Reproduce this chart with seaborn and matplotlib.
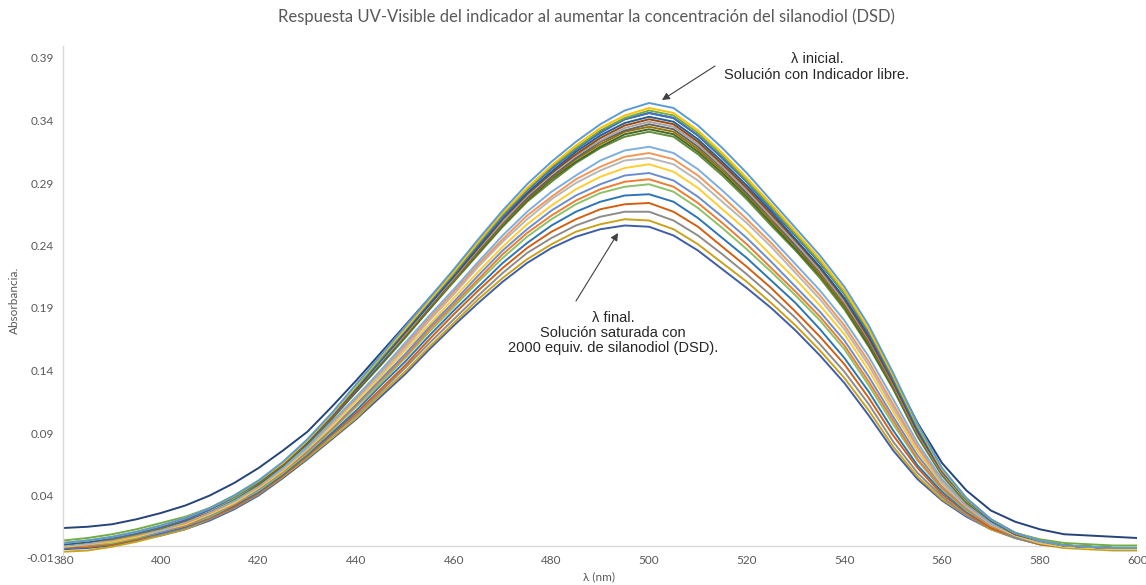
import matplotlib
matplotlib.use("Agg")
import matplotlib.pyplot as plt
import numpy as np
import pandas as pd
import seaborn as sns

# ---------------- data (absorbance in milli-units) ----------------
wavelength = list(range(380, 601, 5))

# upper bundle (initial spectra), highest peak first
t01 = [2,4,7,11,16,22,30,40,52,67,85,106,129,152,175,198,221,245,268,289,307,323,337,348,354,350,336,318,298,276,254,232,207,176,138,97,62,38,21,10,4,0,-1,-2,-2]
t02 = [2,4,7,11,16,22,30,40,52,66,84,105,128,151,173,196,219,243,266,286,304,320,334,344,350,346,332,314,294,273,251,229,204,173,136,96,61,38,21,10,4,0,-1,-2,-2]
t03 = [4,6,9,13,18,23,30,39,51,66,84,105,127,150,173,196,218,242,265,285,303,318,332,342,348,344,330,312,292,271,249,227,202,172,135,95,61,37,21,10,5,2,1,0,0]
t04 = [2,4,6,10,15,21,29,39,51,66,84,104,127,149,172,195,217,241,263,284,301,317,330,341,346,342,328,310,291,269,248,226,201,170,133,94,60,37,21,10,4,0,-1,-2,-2]
t05 = [14,15,17,21,26,32,40,50,62,76,91,111,132,154,176,198,220,243,265,285,302,317,331,341,346,342,328,310,291,269,248,226,202,172,136,98,66,44,28,19,13,9,8,7,6]
t06 = [1,3,6,10,15,21,29,39,51,66,83,104,126,148,171,193,216,239,262,282,299,315,328,338,343,339,325,307,288,267,245,223,198,168,132,92,60,37,20,10,4,0,-1,-2,-2]
t07 = [1,3,6,10,15,21,29,39,50,65,83,103,125,148,170,193,215,238,261,281,298,313,326,336,341,337,323,305,286,265,244,222,197,166,130,91,59,37,20,10,4,0,-1,-2,-2]
t08 = [1,3,6,10,15,21,28,38,50,65,83,103,125,147,169,192,214,237,259,280,297,312,324,334,339,335,321,303,284,263,242,220,195,165,129,90,58,36,20,10,4,0,-1,-2,-2]
t09 = [1,3,6,10,15,20,28,38,50,65,82,102,124,146,169,191,213,236,258,278,295,310,323,332,337,333,319,302,282,262,240,219,194,163,128,89,58,36,20,9,4,0,-1,-2,-2]
t10 = [1,3,6,10,14,20,28,38,50,65,82,102,124,146,168,190,212,235,257,277,294,309,321,331,335,331,317,300,281,260,239,217,192,162,127,88,57,35,20,9,4,0,-1,-2,-2]
t11 = [1,3,6,10,14,20,28,38,49,64,82,102,123,145,167,189,212,234,256,276,293,307,319,329,333,329,315,298,279,258,237,216,191,160,126,88,57,35,20,9,4,0,-1,-2,-2]
t12 = [1,3,5,9,14,20,28,37,49,64,81,101,123,144,166,189,211,233,255,275,291,306,318,327,331,327,313,296,277,256,236,214,189,159,125,87,56,34,20,9,4,0,-1,-2,-2]

# lower bundle (increasing silanediol), highest peak first
l01 = [0,2,5,9,13,19,27,36,48,62,79,99,119,140,162,184,205,227,248,267,283,296,308,316,319,314,301,284,266,246,225,204,180,151,117,82,53,33,18,9,3,0,-1,-2,-2]
l02 = [0,2,4,8,13,18,26,36,47,62,79,98,118,139,160,182,203,225,245,264,279,293,303,311,314,309,296,279,261,242,221,200,176,147,113,79,52,32,18,9,3,0,-1,-2,-2]
l03 = [0,1,4,8,12,18,26,35,47,61,78,97,117,137,158,180,201,223,243,261,277,290,300,308,310,305,292,275,258,239,218,197,173,144,110,78,50,31,17,9,3,0,-1,-2,-2]
l04 = [-1,1,3,7,12,17,25,34,46,60,77,95,115,135,156,177,198,219,239,257,272,285,295,302,305,299,286,269,252,232,213,192,169,140,107,75,49,31,17,8,2,-1,-2,-3,-3]
l05 = [-1,1,3,7,11,17,24,34,45,60,76,94,113,133,153,175,195,216,236,253,268,280,289,296,298,292,279,263,246,227,207,187,164,135,103,72,48,30,17,7,2,-1,-2,-3,-3]
l06 = [-1,0,3,7,11,16,24,33,45,59,75,93,112,132,151,173,193,213,233,250,264,276,285,291,293,287,274,258,241,222,203,183,160,131,100,69,46,29,16,7,2,-1,-2,-3,-3]
l07 = [-1,0,2,6,11,16,23,33,44,58,74,92,111,130,150,171,191,211,230,247,261,273,282,287,289,283,270,254,237,219,200,180,157,128,97,68,45,28,16,7,2,-1,-2,-3,-3]
l08 = [-2,0,2,6,10,15,23,32,43,57,73,90,108,128,147,168,188,207,226,242,256,267,275,280,281,275,262,246,230,212,194,173,150,123,92,64,43,27,16,7,2,-1,-2,-3,-3]
l09 = [-2,-1,1,5,10,15,22,31,42,56,72,89,106,125,144,165,185,204,222,238,251,261,269,273,274,267,255,239,223,206,187,167,145,118,88,62,41,26,14,7,1,-1,-2,-3,-3]
l10 = [-2,-1,1,5,9,14,21,30,41,56,71,88,104,123,142,162,181,200,218,234,246,256,263,267,267,260,248,233,217,200,182,161,139,113,83,58,39,24,14,6,1,-1,-2,-3,-3]
l11 = [-5,-4,-1,3,8,13,21,30,41,55,70,86,102,121,139,159,178,197,214,229,241,251,257,261,260,253,241,226,211,194,176,156,134,108,79,55,37,24,13,6,1,-2,-3,-4,-4]
l12 = [-3,-2,0,4,8,13,20,29,40,54,69,85,101,119,137,157,176,194,211,226,238,247,253,256,255,248,236,221,206,190,172,152,130,104,76,53,36,23,13,6,1,-1,-2,-3,-3]

series_names = ["l12","l11","l10","l09","l08","l07","l06","l05","l04","l03","l02","l01",
                "t12","t11","t10","t09","t08","t07","t06","t05","t04","t03","t02","t01"]
series_values = [l12,l11,l10,l09,l08,l07,l06,l05,l04,l03,l02,l01,
                 t12,t11,t10,t09,t08,t07,t06,t05,t04,t03,t02,t01]
series_colors = ["#3F5EA8","#C9A21E","#8C8C8C","#D26012","#2E75B6","#8CC168","#ED7D31","#698ED0",
                 "#FFCD33","#B7B7B7","#F1975A","#7CAFDD",
                 "#638C3A","#43682B","#997300","#636363","#A5A5A5","#9E480E","#255E91","#264478",
                 "#4472C4","#70AD47","#FFC000","#5B9BD5"]

y_ticks = [-0.01, 0.04, 0.09, 0.14, 0.19, 0.24, 0.29, 0.34, 0.39]
x_ticks = [380, 400, 420, 440, 460, 480, 500, 520, 540, 560, 580, 600]

title = "Respuesta UV-Visible del indicador al aumentar la concentración del silanodiol (DSD)"
note_top = "λ inicial.\nSolución con Indicador libre."
note_bottom = "λ final.\nSolución saturada con\n2000 equiv. de silanodiol (DSD)."

# ---------------- build table ----------------
rows = []
for name, vals in zip(series_names, series_values):
    if len(vals) != len(wavelength):
        raise ValueError(f"{name} has {len(vals)} values")
    for w, v in zip(wavelength, vals):
        rows.append((name, w, v / 1000.0))
df = pd.DataFrame(rows, columns=["serie", "nm", "absorbancia"])

# ---------------- plot ----------------
sns.set_style("white")
plt.rcParams["font.family"] = ["Lato", "DejaVu Sans"]

W, H = 1146, 585
fig = plt.figure(figsize=(W / 100, H / 100), dpi=100)
ax = fig.add_axes([63.3 / W, 1 - 558 / H, 1074 / W, 512.5 / H])

sns.lineplot(data=df, x="nm", y="absorbancia", hue="serie", hue_order=series_names,
             palette=dict(zip(series_names, series_colors)), legend=False,
             linewidth=1.4, sort=False, ax=ax, estimator=None)

ax.set_xlim(380, 600)
ax.set_ylim(-0.01, 0.40)
ax.set_xticks(x_ticks)
ax.set_xticklabels([str(x) for x in x_ticks])
ax.set_yticks(y_ticks)
ax.set_yticklabels([f"{y:.2f}" for y in y_ticks])
ax.tick_params(axis="both", length=0, labelsize=8.5, labelcolor="#595959")
ax.tick_params(axis="y", pad=7)
ax.tick_params(axis="x", pad=-2.5)
ax.set_xlabel("")
ax.set_ylabel("")
for s in ["top", "right", "bottom"]:
    ax.spines[s].set_visible(False)
ax.spines["left"].set_color("#D9D9D9")
ax.spines["left"].set_linewidth(1.0)
ax.axhline(0, color="#D9D9D9", lw=1.0, zorder=0)
ax.grid(False)

fig.text(586 / W, 1 - 17 / H, title, ha="center", va="center", fontsize=12, color="#595959")
fig.text(599.5 / W, 1 - 577 / H, "λ (nm)", ha="center", va="center", fontsize=8.5, color="#595959")
fig.text(14 / W, 1 - 300 / H, "Absorbancia.", ha="center", va="center", rotation=90,
         fontsize=8.5, color="#595959")

ann_font = ["Liberation Sans", "DejaVu Sans"]
fig.text(817 / W, 1 - 67 / H, note_top, ha="center", va="center", fontsize=10.5,
         color="#262626", family=ann_font, linespacing=1.1)
fig.text(613 / W, 1 - 333 / H, note_bottom, ha="center", va="center", fontsize=10.5,
         color="#262626", family=ann_font, linespacing=1.1)

arrow = dict(arrowstyle="-|>", color="#404040", lw=0.8, mutation_scale=11, shrinkA=0, shrinkB=0)
ax.annotate("", xy=(662 / W, 1 - 100 / H), xytext=(715 / W, 1 - 66 / H),
            xycoords="figure fraction", textcoords="figure fraction", arrowprops=arrow)
ax.annotate("", xy=(618 / W, 1 - 233 / H), xytext=(576 / W, 1 - 301 / H),
            xycoords="figure fraction", textcoords="figure fraction", arrowprops=arrow)

fig.savefig("out.png", dpi=100)
